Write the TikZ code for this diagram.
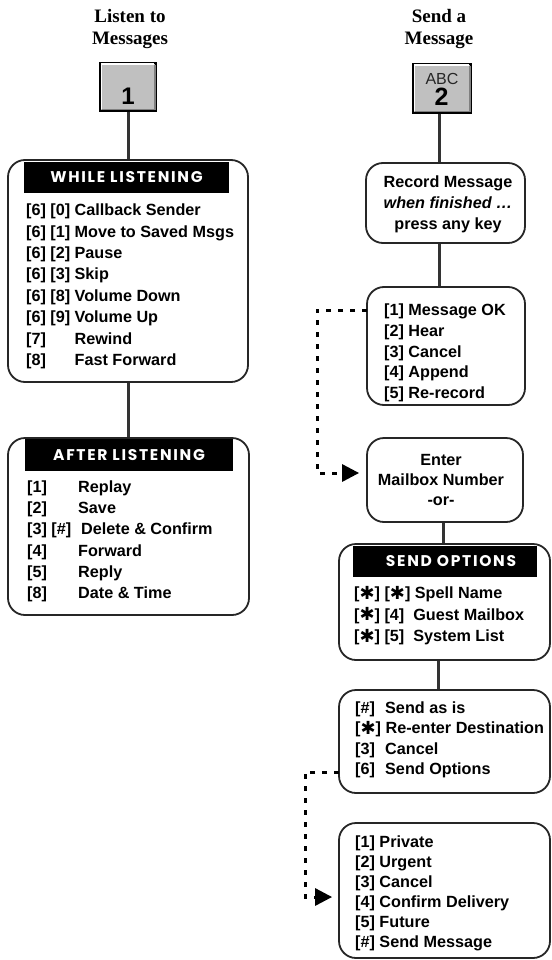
\documentclass[tikz,border=0pt]{standalone}
\usepackage{fontspec}
\setmainfont{Liberation Sans}
\newfontfamily\ttlfont{Liberation Serif}
\newfontfamily\hdrfont{Poppins}[LetterSpace=11]
\newfontfamily\djvfont{DejaVu Sans}
\usetikzlibrary{arrows.meta}
\definecolor{keygray}{HTML}{C0C0C0}
\newcommand{\hast}{{\djvfont\fontsize{18}{18}\selectfont\raisebox{-0.5pt}{✱}}}
\newcommand{\kl}[2]{\makebox[#1][l]{#2}}
\begin{document}
\begin{tikzpicture}[x=1pt,y=-1pt,
  box/.style={draw=black!85,line width=1.8pt,rounded corners=17pt,fill=white,inner sep=0pt},
  hbar/.style={fill=black,inner sep=0pt,text=white,font=\hdrfont\bfseries\fontsize{15.5}{18}\selectfont},
  items/.style={anchor=base west,inner sep=0pt,font=\bfseries\fontsize{16.2}{21.4}\selectfont},
  citems/.style={anchor=base,inner sep=0pt,font=\bfseries\fontsize{16.2}{21}\selectfont},
  ttl/.style={anchor=base,inner sep=0pt,font=\ttlfont\bfseries\fontsize{19}{22}\selectfont},
  key/.style={draw=black,line width=1.5pt,fill=keygray,inner sep=0pt},
  link/.style={draw=black!80,line width=3pt},
  dots/.style={draw=black,line width=3pt,dash pattern=on 5pt off 7pt,-{Triangle[length=17pt,width=17pt]}}
]
\useasboundingbox (0,0) rectangle (551,960);

% titles
\node[ttl] (t1) at (130,23) {\begin{tabular}[t]{@{}c@{}}Listen to\\Messages\end{tabular}};
\node[ttl] (t2) at (439,23) {\begin{tabular}[t]{@{}c@{}}Send a\\Message\end{tabular}};

% keys
\node[key,minimum width=56pt,minimum height=48pt] (k1) at (128,87) {};
\draw[white,line width=1.5pt] ([xshift=2pt,yshift=2.5pt]k1.south west) |- ([xshift=-2.5pt,yshift=-2pt]k1.north east);
\draw[gray,line width=1.5pt] ([xshift=2.5pt,yshift=2pt]k1.south west) -| ([xshift=-2pt,yshift=-2.5pt]k1.north east);
\node[font=\bfseries\fontsize{24}{24}\selectfont,anchor=base,inner sep=0pt] (k1t) at (128,104.3) {1};

\node[key,minimum width=58pt,minimum height=49pt] (k2) at (442,88.5) {};
\draw[white,line width=1.5pt] ([xshift=2pt,yshift=2.5pt]k2.south west) |- ([xshift=-2.5pt,yshift=-2pt]k2.north east);
\draw[gray,line width=1.5pt] ([xshift=2.5pt,yshift=2pt]k2.south west) -| ([xshift=-2pt,yshift=-2.5pt]k2.north east);
\node[font=\fontsize{16}{16}\selectfont,text=black!85,anchor=base,inner sep=0pt] (k2a) at (442,85) {ABC};
\node[font=\bfseries\fontsize{25}{25}\selectfont,anchor=base,inner sep=0pt] (k2b) at (441.5,106) {2};

% boxes
\node[box,minimum width=240pt,minimum height=222pt] (wl) at (128,271) {};
\node[box,minimum width=241pt,minimum height=177pt] (al) at (128.5,526.5) {};
\node[box,minimum width=159pt,minimum height=80pt] (rec) at (445.5,203) {};
\node[box,minimum width=158pt,minimum height=118pt] (opts) at (446,346) {};
\node[box,minimum width=156pt,minimum height=84pt] (en) at (445,480) {};
\node[box,minimum width=211pt,minimum height=116pt] (so) at (444.5,602) {};
\node[box,minimum width=211pt,minimum height=103pt] (sa) at (444.5,741.5) {};
\node[box,minimum width=211pt,minimum height=135pt] (la) at (444.5,890.5) {};

% header bars
\node[hbar,minimum width=205pt,minimum height=31pt] (wlh) at (126.5,177.5) {WHILE LISTENING};
\node[hbar,minimum width=208pt,minimum height=32pt] (alh) at (129,455) {AFTER LISTENING};
\node[hbar,minimum width=184pt,minimum height=31pt] (soh) at (445,561.5) {\hspace*{12pt}SEND OPTIONS};

% texts
\node[items] (wli) at (26,215.7) {\begin{tabular}[t]{@{}l@{}}
\kl{48.5pt}{[6] [0]}Callback Sender\\
\kl{48.5pt}{[6] [1]}Move to Saved Msgs\\
\kl{48.5pt}{[6] [2]}Pause\\
\kl{48.5pt}{[6] [3]}Skip\\
\kl{48.5pt}{[6] [8]}Volume Down\\
\kl{48.5pt}{[6] [9]}Volume Up\\
\kl{48.5pt}{[7]}Rewind\\
\kl{48.5pt}{[8]}Fast Forward\end{tabular}};

\node[items,font=\bfseries\fontsize{16.2}{21.2}\selectfont] (ali) at (27,492.5) {\begin{tabular}[t]{@{}l@{}}
\kl{51pt}{[1]}Replay\\
\kl{51pt}{[2]}Save\\
\kl{54pt}{[3] [\#]}Delete \& Confirm\\
\kl{51pt}{[4]}Forward\\
\kl{51pt}{[5]}Reply\\
\kl{51pt}{[8]}Date \& Time\end{tabular}};

\node[citems] (rect) at (448,187.5) {\begin{tabular}[t]{@{}c@{}}
Record Message\\ \textit{when finished …}\\ press any key\end{tabular}};

\node[items,font=\bfseries\fontsize{16.2}{20.8}\selectfont] (optt) at (384,315.5) {\begin{tabular}[t]{@{}l@{}}
{[1] Message OK}\\ {[2] Hear}\\ {[3] Cancel}\\ {[4] Append}\\ {[5] Re-record}\end{tabular}};

\node[citems,font=\bfseries\fontsize{16.2}{20}\selectfont] (ent) at (441,465.5) {\begin{tabular}[t]{@{}c@{}}
Enter\\ Mailbox Number\\ -or-\end{tabular}};

\node[items,font=\bfseries\fontsize{16.2}{21.5}\selectfont] (sot) at (354,598.5) {\begin{tabular}[t]{@{}l@{}}
{[\hast] [\hast] Spell Name}\\
{[\hast] [4]\ \ Guest Mailbox}\\
{[\hast] [5]\ \ System List}\end{tabular}};

\node[items,font=\bfseries\fontsize{16.2}{20.3}\selectfont] (sat) at (355,713.5) {\begin{tabular}[t]{@{}l@{}}
\kl{30pt}{[\#]}Send as is\\
{[\hast] Re-enter Destination}\\
\kl{30pt}{[3]}Cancel\\
\kl{30pt}{[6]}Send Options\end{tabular}};

\node[items,font=\bfseries\fontsize{16.2}{20}\selectfont] (lat) at (355,847.5) {\begin{tabular}[t]{@{}l@{}}
{[1] Private}\\ {[2] Urgent}\\ {[3] Cancel}\\ {[4] Confirm Delivery}\\ {[5] Future}\\ {[\#] Send Message}\end{tabular}};

% solid connectors
\coordinate (rx) at (439,0);
\coordinate (ex) at (443,0);
\coordinate (sx) at (438,0);
\draw[link] (k1.south) -- (k1.south |- wl.north);
\draw[link] (wl.south) -- (wl.south |- al.north);
\draw[link] (k2.south -| rx) -- (rec.north -| rx);
\draw[link] (rec.south -| rx) -- (opts.north -| rx);
\draw[link] (en.south -| ex) -- (so.north -| ex);
\draw[link] (so.south -| sx) -- (sa.north -| sx);

% dotted connectors
\coordinate (d1a) at (367,310);
\coordinate (d1b) at (317,473);
\draw[dots,shorten >=7pt] (d1a) -| (d1b) -- (d1b -| en.west);
\coordinate (d2a) at (339,772);
\coordinate (d2b) at (305,897);
\draw[dots,shorten >=6pt] (d2a) -| (d2b) -- (d2b -| la.west);
\end{tikzpicture}
\end{document}
